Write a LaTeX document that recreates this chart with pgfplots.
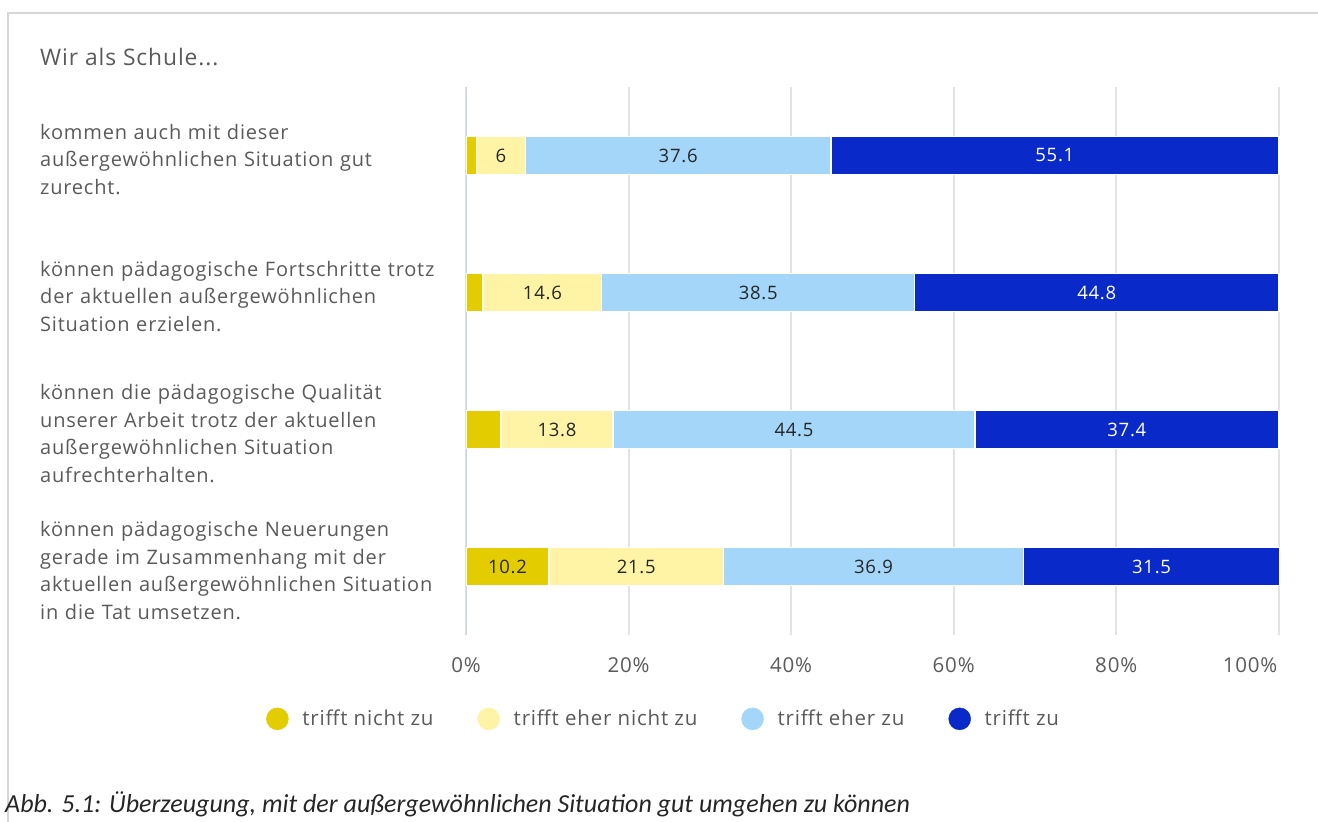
\documentclass[border=0pt]{standalone}
\usepackage{pgfplots}
\pgfplotsset{compat=1.18}
\usepackage{fontspec}
\setmainfont{Open Sans}[LetterSpace=4]
\newfontfamily\capfont{Carlito}
\definecolor{cA}{HTML}{E3CC00}
\definecolor{cB}{HTML}{FFF3A6}
\definecolor{cC}{HTML}{A3D6F8}
\definecolor{cD}{HTML}{0A29C9}
\definecolor{txt}{HTML}{5A5A5A}
\definecolor{gridc}{HTML}{E3E3E3}
\definecolor{axc}{HTML}{C8D2E8}
\definecolor{frame}{HTML}{D6D6D6}
\begin{document}
\begin{tikzpicture}[x=1pt,y=-1pt]
\path[use as bounding box] (0,0) rectangle (1318,822);
\draw[frame, line width=2pt] (8,822) -- (8,13) -- (1318,13);
\node[anchor=west, inner sep=0pt, text=txt, font=\fontsize{22.8}{26}\selectfont] at (40,57) {Wir als Schule...};
\begin{axis}[
  at={(466pt,-635pt)}, anchor=south west,
  scale only axis, width=814pt, height=548pt,
  xbar stacked, bar width=38pt,
  xmin=0, xmax=100.15, ymin=-0.5, ymax=3.5, y dir=reverse,
  axis line style={draw=none}, tick style={draw=none},
  xmajorgrids, grid style={gridc, line width=2pt},
  xtick={0,20,40,60,80},
  extra x ticks={100},
  extra x tick style={grid=major, xticklabel style={anchor=north east, xshift=2pt}},
  xticklabel={\pgfmathprintnumber{\tick}\%},
  /pgf/number format/assume math mode=true,
  xticklabel style={font=\fontsize{20.5}{24}\selectfont, text=txt, yshift=-19pt},
  ytick={0,1,2,3},
  yticklabels={
    {kommen auch mit dieser\\außergewöhnlichen Situation gut\\zurecht.},
    {können pädagogische Fortschritte trotz\\der aktuellen außergewöhnlichen\\Situation erzielen.},
    {können die pädagogische Qualität\\unserer Arbeit trotz der aktuellen\\außergewöhnlichen Situation\\aufrechterhalten.},
    {können pädagogische Neuerungen\\gerade im Zusammenhang mit der\\aktuellen außergewöhnlichen Situation\\in die Tat umsetzen.}},
  yticklabel style={anchor=west, xshift=-426pt, yshift=-4pt, inner sep=0pt, text width=420pt, align=left, text=txt, font=\fontsize{20}{27.5}\selectfont},
  visualization depends on=rawx \as \rawx,
  nodes near coords={\ifdim\rawx pt>5pt \pgfmathprintnumber{\rawx}\fi},
  every node near coord/.append style={anchor=center, font=\fontsize{18.5}{22}\selectfont, text=black!85},
  legend columns=4,
  legend style={at={(-0.2457,-0.153)}, anchor=west, draw=none, inner sep=0pt, font=\fontsize{20.5}{24}\selectfont, text=txt,
    /tikz/every even column/.append style={column sep=42pt}},
  legend cell align=left,
]
\addlegendimage{legend image code/.code={\fill[cA] (11pt,0pt) circle (11pt); \path[draw=none,fill=none] (0pt,0pt) -- (34pt,0pt);}}
\addlegendentry{trifft nicht zu}
\addlegendimage{legend image code/.code={\fill[cB] (11pt,0pt) circle (11pt); \path[draw=none,fill=none] (0pt,0pt) -- (34pt,0pt);}}
\addlegendentry{trifft eher nicht zu}
\addlegendimage{legend image code/.code={\fill[cC] (11pt,0pt) circle (11pt); \path[draw=none,fill=none] (0pt,0pt) -- (34pt,0pt);}}
\addlegendentry{trifft eher zu}
\addlegendimage{legend image code/.code={\fill[cD] (11pt,0pt) circle (11pt); \path[draw=none,fill=none] (0pt,0pt) -- (34pt,0pt);}}
\addlegendentry{trifft zu}
\addplot[fill=cA, draw=white, line width=1.5pt] coordinates {(1.3,0) (2.1,1) (4.3,2) (10.2,3)};
\addplot[fill=cB, draw=white, line width=1.5pt] coordinates {(6,0) (14.6,1) (13.8,2) (21.5,3)};
\addplot[fill=cC, draw=white, line width=1.5pt] coordinates {(37.6,0) (38.5,1) (44.5,2) (36.9,3)};
\addplot[fill=cD, draw=white, line width=1.5pt, every node near coord/.append style={text=white}] coordinates {(55.1,0) (44.8,1) (37.4,2) (31.5,3)};
\draw[axc, line width=2pt] (axis cs:0,-0.5) -- (axis cs:0,3.5);
\end{axis}
\node[anchor=west, inner sep=0pt, text=black!85, font=\capfont\itshape\fontsize{26}{30}\selectfont] at (5,804) {Abb. 5.1: Überzeugung, mit der außergewöhnlichen Situation gut umgehen zu können};
\end{tikzpicture}
\end{document}
